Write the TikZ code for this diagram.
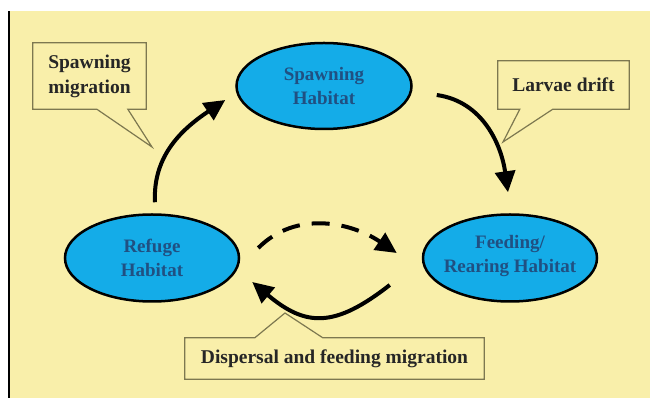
\documentclass[tikz,border=0pt]{standalone}
\usepackage{fontspec}
\setmainfont{Liberation Serif}
\usetikzlibrary{arrows.meta,shapes.geometric,calc}
\definecolor{bgyellow}{RGB}{249,239,170}
\definecolor{habcyan}{RGB}{20,172,232}
\definecolor{habtextc}{RGB}{32,80,130}
\definecolor{boxline}{RGB}{125,120,80}
\begin{document}
\begin{tikzpicture}[x=1pt,y=1pt,
  habitat/.style={ellipse, draw=black, line width=2.5pt, fill=habcyan, inner sep=0pt},
  habtext/.style={text=habtextc, font=\bfseries\fontsize{19}{24}\selectfont, align=center, inner sep=0pt},
  calloutbox/.style={rectangle, fill=bgyellow, inner sep=0pt, align=center, text=black!85,
    font=\bfseries\fontsize{19.5}{25}\selectfont},
  callline/.style={draw=boxline, line width=1.2pt, line join=miter},
  arr/.style={line width=4pt, -{Triangle[length=21pt,width=20pt]}}
]
\useasboundingbox (0,0) rectangle (650,398);
\fill[white] (0,0) rectangle (650,398);
\fill[bgyellow] (9,0) rectangle (650,387);
\draw[line width=1.2pt] (9,0) -- (9,387);

% habitats
\node[habitat, minimum width=175pt, minimum height=86pt] (sp) at (324,312) {};
\node[habtext] (spt) at (sp) {Spawning\\Habitat};
\node[habitat, minimum width=174pt, minimum height=87pt] (rf) at (152,140) {};
\node[habtext] (rft) at (rf) {Refuge\\Habitat};
\node[habitat, minimum width=174pt, minimum height=87pt] (fd) at (510,140) {};
\node[habtext] (fdt) at ([yshift=2pt]fd.center) {Feeding/\\Rearing Habitat};

% arrows
\draw[arr] ([xshift=3pt,yshift=11pt]rf.north) to[out=93,in=214] ([xshift=-10pt,yshift=-14pt]sp.west);
\draw[arr] ([xshift=24pt,yshift=-9pt]sp.east) to[out=-8,in=98] ([xshift=-2pt,yshift=21pt]fd.north);
\draw[arr, dash pattern=on 18pt off 12pt] ([xshift=18pt,yshift=10pt]rf.east) to[out=45,in=146] ([xshift=-25pt,yshift=5pt]fd.west);
\draw[arr] ([xshift=-32pt,yshift=-27pt]fd.west) to[out=218,in=-40,looseness=1.3] ([xshift=12pt,yshift=-24pt]rf.east);

% callouts
\node[calloutbox, minimum width=113pt, minimum height=66pt] (smb) at (89.5,322) {Spawning\\migration};
\coordinate (smtip) at (152,251);
\draw[callline] (smb.south west) -- ($(smb.south west)+(64,0)$) -- (smtip) -- ($(smb.south west)+(95,0)$) -- (smb.south east) -- (smb.north east) -- (smb.north west) -- cycle;

\node[calloutbox, minimum width=131pt, minimum height=48pt] (ldb) at (563.5,313) {Larvae drift};
\coordinate (ldtip) at (503,256);
\draw[callline] (ldb.south west) -- ($(ldb.south west)+(22,0)$) -- (ldtip) -- ($(ldb.south west)+(55,0)$) -- (ldb.south east) -- (ldb.north east) -- (ldb.north west) -- cycle;

\node[calloutbox, minimum width=299pt, minimum height=41pt] (dpb) at (334.5,39.5) {Dispersal and feeding migration};
\coordinate (dptip) at (285,85);
\draw[callline] (dpb.north west) -- ($(dpb.north west)+(70,0)$) -- (dptip) -- ($(dpb.north west)+(138,0)$) -- (dpb.north east) -- (dpb.south east) -- (dpb.south west) -- cycle;
\end{tikzpicture}
\end{document}
